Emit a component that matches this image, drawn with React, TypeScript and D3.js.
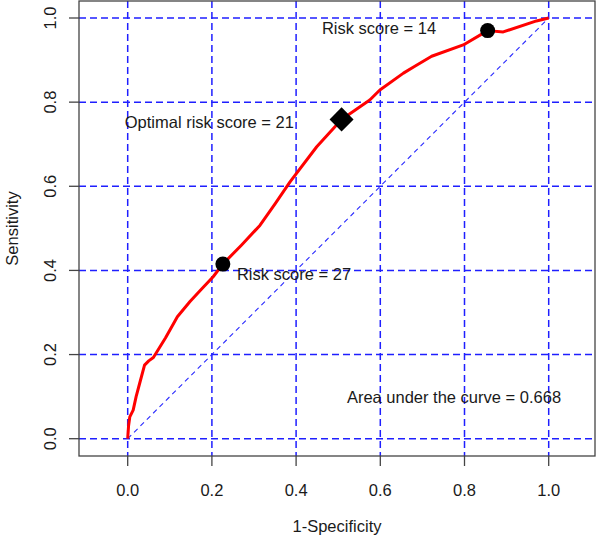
import React from "react";
import * as d3 from "d3";

const fprValues = [0, 0.002, 0.005, 0.013, 0.02, 0.028, 0.04, 0.05, 0.061, 0.09, 0.118, 0.148, 0.175, 0.203, 0.226, 0.27, 0.314, 0.35, 0.386, 0.449, 0.508, 0.575, 0.599, 0.655, 0.68, 0.722, 0.797, 0.855, 0.892, 0.971, 1.0];
const tprValues = [0, 0.03, 0.052, 0.068, 0.1, 0.13, 0.175, 0.185, 0.193, 0.24, 0.29, 0.326, 0.355, 0.385, 0.415, 0.46, 0.507, 0.558, 0.611, 0.694, 0.759, 0.805, 0.829, 0.869, 0.884, 0.909, 0.936, 0.97, 0.967, 0.993, 1.0];

const markerPoints = [
  { fpr: 0.226, tpr: 0.415, shape: "circle" },
  { fpr: 0.508, tpr: 0.759, shape: "diamond" },
  { fpr: 0.855, tpr: 0.97, shape: "circle" },
];

const tickValues = [0, 0.2, 0.4, 0.6, 0.8, 1.0];
const tickLabels = ["0.0", "0.2", "0.4", "0.6", "0.8", "1.0"];

const annotations = [
  { text: "Risk score = 14", fpr: 0.597, tpr: 0.976 },
  { text: "Optimal risk score = 21", fpr: 0.194, tpr: 0.752 },
  { text: "Risk score = 27", fpr: 0.395, tpr: 0.392 },
  { text: "Area under the curve = 0.668", fpr: 0.775, tpr: 0.1 },
];

const W = 597;
const H = 539;
const box = { left: 79, right: 595, top: 1, bottom: 456 };

export default function App() {
  const x = d3.scaleLinear().domain([0, 1]).range([127.7, 548.7]);
  const y = d3.scaleLinear().domain([0, 1]).range([438.7, 18]);

  const pts = fprValues.map((f, i) => [f, tprValues[i]] as [number, number]);
  const line = d3
    .line<[number, number]>()
    .x((d) => x(d[0]))
    .y((d) => y(d[1]));

  const font = "Liberation Sans, Arial, sans-serif";
  const textColor = "#1a1a1a";
  const fs = 16.5;

  return (
    <svg
      width={W}
      height={H}
      style={{ position: "absolute", left: 0, top: 0, background: "#fff" }}
      fontFamily={font}
    >
      <rect x={0} y={0} width={W} height={H} fill="#fff" />
      {tickValues.map((t) => (
        <line
          key={"gv" + t}
          x1={x(t)}
          x2={x(t)}
          y1={box.top}
          y2={box.bottom}
          stroke="#1f1fff"
          strokeWidth={1.5}
          strokeDasharray="7,4"
        />
      ))}
      {tickValues.map((t) => (
        <line
          key={"gh" + t}
          x1={box.left}
          x2={box.right}
          y1={y(t)}
          y2={y(t)}
          stroke="#1f1fff"
          strokeWidth={1.5}
          strokeDasharray="7,4"
        />
      ))}
      <line
        x1={x(0)}
        y1={y(0)}
        x2={x(1)}
        y2={y(1)}
        stroke="#2a2aff"
        strokeWidth={1.1}
        strokeDasharray="5,4"
      />
      <path d={line(pts) || ""} fill="none" stroke="#ff0000" strokeWidth={3} strokeLinejoin="round" />
      {markerPoints.map((m, i) =>
        m.shape === "circle" ? (
          <circle key={i} cx={x(m.fpr)} cy={y(m.tpr)} r={7.5} fill="#000" />
        ) : (
          <rect
            key={i}
            x={x(m.fpr) - 8.5}
            y={y(m.tpr) - 8.5}
            width={17}
            height={17}
            fill="#000"
            transform={`rotate(45 ${x(m.fpr)} ${y(m.tpr)})`}
          />
        )
      )}
      {annotations.map((a, i) => (
        <text
          key={i}
          x={x(a.fpr)}
          y={y(a.tpr)}
          textAnchor="middle"
          dominantBaseline="central"
          fontSize={fs}
          fill={textColor}
        >
          {a.text}
        </text>
      ))}
      <rect
        x={box.left}
        y={box.top}
        width={box.right - box.left}
        height={box.bottom - box.top}
        fill="none"
        stroke="#444"
        strokeWidth={1.3}
      />
      {tickValues.map((t, i) => (
        <g key={"xt" + t}>
          <line x1={x(t)} x2={x(t)} y1={box.bottom} y2={box.bottom + 10} stroke="#444" strokeWidth={1.3} />
          <text x={x(t)} y={496} textAnchor="middle" fontSize={fs} fill={textColor}>
            {tickLabels[i]}
          </text>
        </g>
      ))}
      {tickValues.map((t, i) => (
        <g key={"yt" + t}>
          <line x1={box.left - 10} x2={box.left} y1={y(t)} y2={y(t)} stroke="#444" strokeWidth={1.3} />
          <text
            x={56}
            y={y(t)}
            textAnchor="middle"
            fontSize={fs}
            fill={textColor}
            transform={`rotate(-90 56 ${y(t)})`}
          >
            {tickLabels[i]}
          </text>
        </g>
      ))}
      <text x={(box.left + box.right) / 2} y={532} textAnchor="middle" fontSize={fs} fill={textColor}>
        1-Specificity
      </text>
      <text
        x={18}
        y={(box.top + box.bottom) / 2}
        textAnchor="middle"
        fontSize={fs}
        fill={textColor}
        transform={`rotate(-90 18 ${(box.top + box.bottom) / 2})`}
      >
        Sensitivity
      </text>
    </svg>
  );
}
